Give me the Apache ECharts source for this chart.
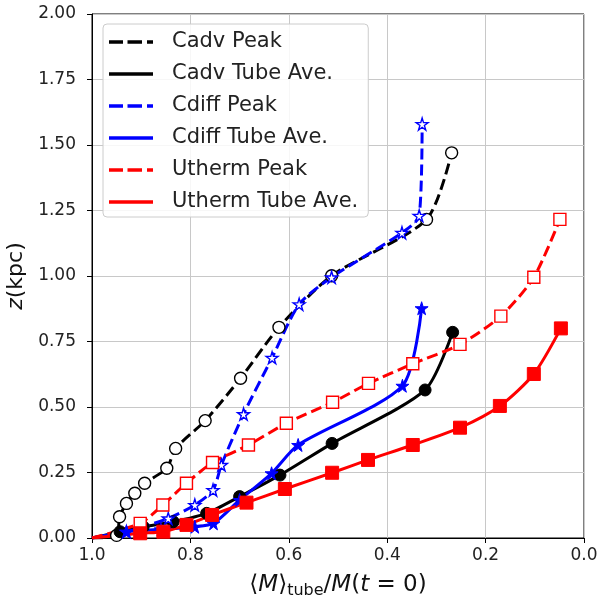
<!DOCTYPE html>
<html>
<head>
<meta charset="utf-8">
<script src="https://cdn.jsdelivr.net/npm/echarts@6/dist/echarts.min.js"></script>
<style>html,body{margin:0;padding:0;background:#fff}#c{width:600px;height:596px}</style>
</head>
<body>
<div id="c"></div>
<script>
// ---- data ----
var seriesNames = ['Cadv Peak', 'Cadv Tube Ave.', 'Cdiff Peak', 'Cdiff Tube Ave.', 'Utherm Peak', 'Utherm Tube Ave.'];

var cadvPeakX = [1.00, 0.950, 0.944, 0.930, 0.913, 0.893, 0.848, 0.830, 0.770, 0.698, 0.620, 0.513, 0.320, 0.269];
var cadvPeakY = [0.00, 0.010, 0.081, 0.132, 0.171, 0.209, 0.266, 0.342, 0.448, 0.610, 0.804, 1.001, 1.216, 1.470];

var cadvTubeX = [1.00, 0.943, 0.896, 0.835, 0.767, 0.700, 0.618, 0.512, 0.323, 0.267];
var cadvTubeY = [0.00, 0.024, 0.043, 0.062, 0.094, 0.158, 0.240, 0.361, 0.565, 0.785];

var cdiffPeakX = [1.00, 0.930, 0.845, 0.791, 0.754, 0.737, 0.692, 0.634, 0.579, 0.513, 0.370, 0.335, 0.329];
var cdiffPeakY = [0.00, 0.024, 0.075, 0.126, 0.183, 0.279, 0.473, 0.688, 0.892, 0.995, 1.165, 1.230, 1.580];

var cdiffTubeX = [1.00, 0.930, 0.860, 0.791, 0.753, 0.700, 0.635, 0.581, 0.369, 0.330];
var cdiffTubeY = [0.00, 0.024, 0.033, 0.043, 0.056, 0.145, 0.247, 0.355, 0.581, 0.877];

var uthermPeakX = [1.00, 0.902, 0.856, 0.808, 0.755, 0.682, 0.605, 0.511, 0.438, 0.348, 0.252, 0.169, 0.102, 0.049];
var uthermPeakY = [0.00, 0.056, 0.126, 0.209, 0.288, 0.355, 0.438, 0.518, 0.590, 0.665, 0.739, 0.847, 0.995, 1.216];

var uthermTubeX = [1.00, 0.902, 0.855, 0.808, 0.756, 0.686, 0.608, 0.512, 0.439, 0.348, 0.252, 0.171, 0.102, 0.047];
var uthermTubeY = [0.00, 0.018, 0.024, 0.050, 0.088, 0.135, 0.187, 0.249, 0.298, 0.355, 0.421, 0.504, 0.626, 0.800];

var xTicks = [0.0, 0.2, 0.4, 0.6, 0.8, 1.0];
var yTicks = [0.00, 0.25, 0.50, 0.75, 1.00, 1.25, 1.50, 1.75, 2.00];

// ---- build ----
var STAR = 'path://M50,0 L61,35 L98,35 L68,57 L79,91 L50,70 L21,91 L32,57 L2,35 L39,35 Z';
var DASH_ICON = 'path://M0,0h14v3.5h-14z M18.5,0h14.5v3.5h-14.5z M38,0h6v3.5h-6z';
var SOLID_ICON = 'path://M0,0h44v3.5h-44z';

function pts(xs, ys) {
  return xs.map(function (x, i) {
    var d = { value: [x, ys[i]] };
    if (i === 0) d.symbol = 'none';
    return d;
  });
}

function mk(name, xs, ys, color, dashed, symbol, size, filled) {
  return {
    name: name,
    type: 'line',
    data: pts(xs, ys),
    smooth: 0.25,
    symbol: symbol,
    symbolSize: size,
    showAllSymbol: true,
    clip: true,
    lineStyle: { color: color, width: 3, type: dashed ? [11, 5] : 'solid', cap: 'butt' },
    itemStyle: filled ? { color: color, borderColor: color, borderWidth: 1 }
                      : { color: '#ffffff', borderColor: color, borderWidth: 1.4 },
    emphasis: { disabled: true },
    animation: false
  };
}

var series = [
  mk(seriesNames[0], cadvPeakX, cadvPeakY, '#000000', true, 'circle', 12, false),
  mk(seriesNames[1], cadvTubeX, cadvTubeY, '#000000', false, 'circle', 12, true),
  mk(seriesNames[2], cdiffPeakX, cdiffPeakY, '#0000ff', true, STAR, 12, false),
  mk(seriesNames[3], cdiffTubeX, cdiffTubeY, '#0000ff', false, STAR, 13, true),
  mk(seriesNames[4], uthermPeakX, uthermPeakY, '#ff0000', true, 'rect', 12, false),
  mk(seriesNames[5], uthermTubeX, uthermTubeY, '#ff0000', false, 'rect', 13, true)
];
var legendColors = ['#000000', '#000000', '#0000ff', '#0000ff', '#ff0000', '#ff0000'];

var chart = echarts.init(document.getElementById('c'), null, { renderer: 'canvas' });
var FONT = 'DejaVu Sans';
chart.setOption({
  animation: false,
  backgroundColor: '#ffffff',
  grid: { left: 92, right: 16, top: 14, bottom: 58, outerBoundsMode: 'none', containLabel: false,
          show: true, borderColor: '#000', borderWidth: 1, backgroundColor: 'transparent' },
  legend: {
    orient: 'vertical',
    left: 103, top: 24,
    padding: [7, 10, 4, 6],
    itemWidth: 44, itemHeight: 3.5,
    itemGap: 10,
    backgroundColor: 'rgba(255,255,255,0.85)',
    borderColor: '#cccccc', borderWidth: 1, borderRadius: 4,
    selectedMode: false,
    textStyle: { fontFamily: FONT, fontSize: 21, color: '#222', lineHeight: 22, padding: [0, 0, 0, 14] },
    data: seriesNames.map(function (n, i) {
      return { name: n, icon: (i % 2 === 0) ? DASH_ICON : SOLID_ICON, itemStyle: { color: legendColors[i], borderWidth: 0 } };
    })
  },
  xAxis: {
    type: 'value', inverse: true, min: 0, max: 1, interval: 0.2,
    name: '⟨{i|M}⟩{sub|tube}/{i|M}({i|t} = 0)',
    nameLocation: 'middle', nameGap: 34,
    nameTextStyle: {
      fontFamily: FONT, fontSize: 23, color: '#111',
      rich: {
        i: { fontFamily: FONT, fontStyle: 'italic', fontSize: 23, color: '#111' },
        sub: { fontFamily: FONT, fontSize: 16, color: '#111', padding: [11, 0, 0, 0] }
      }
    },
    axisLine: { show: true, onZero: false, lineStyle: { color: '#000', width: 1 } },
    axisTick: { show: true, length: 5, inside: false, lineStyle: { color: '#000' } },
    axisLabel: { fontFamily: FONT, fontSize: 17, color: '#222', margin: 9,
      formatter: function (v) { return xTicks.indexOf(+v.toFixed(1)) >= 0 ? v.toFixed(1) : ''; } },
    splitLine: { show: true, lineStyle: { color: '#c8c8c8', width: 1 } }
  },
  yAxis: {
    type: 'value', min: 0, max: 2, interval: 0.25,
    name: '{i|z}(kpc)',
    nameLocation: 'middle', nameGap: 64, nameRotate: 90,
    nameTextStyle: {
      fontFamily: FONT, fontSize: 22, color: '#111',
      rich: { i: { fontFamily: FONT, fontStyle: 'italic', fontSize: 22, color: '#111' } }
    },
    axisLine: { show: true, onZero: false, lineStyle: { color: '#000', width: 1 } },
    axisTick: { show: true, length: 5, inside: false, lineStyle: { color: '#000' } },
    axisLabel: { fontFamily: FONT, fontSize: 17, color: '#222', margin: 16,
      formatter: function (v) { return yTicks.indexOf(+v.toFixed(2)) >= 0 ? v.toFixed(2) : ''; } },
    splitLine: { show: true, lineStyle: { color: '#c8c8c8', width: 1 } }
  },
  series: series
});
</script>
</body>
</html>
